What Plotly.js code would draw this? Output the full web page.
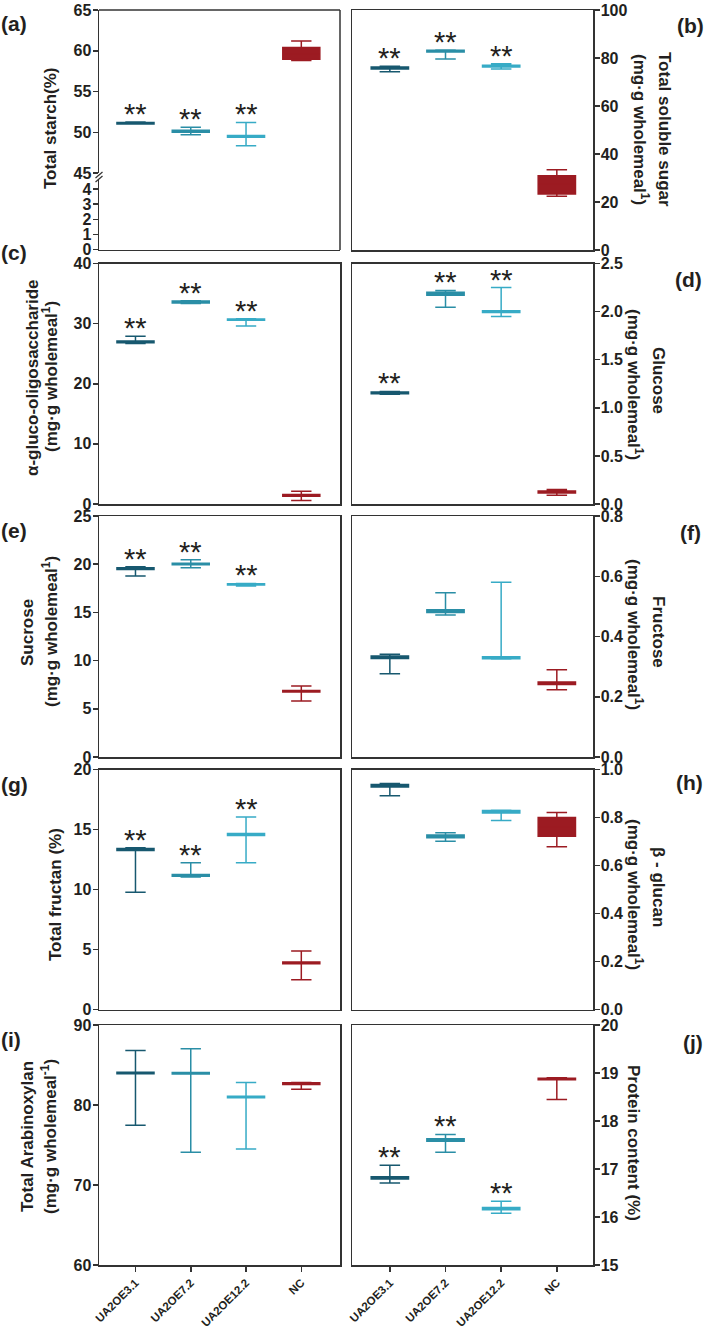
<!DOCTYPE html>
<html>
<head>
<meta charset="utf-8">
<script src="https://cdn.plot.ly/plotly-3.0.1.min.js"></script>
<style>html,body{margin:0;padding:0;background:#fff;}#chart{width:709px;height:1333px;}</style>
</head>
<body>
<div id="chart"></div>
<script>
// ---------- DATA ----------
// each entry: [min, q1, median, q3, max] for UA2OE3.1, UA2OE7.2, UA2OE12.2, NC
const categories = ['UA2OE3.1', 'UA2OE7.2', 'UA2OE12.2', 'NC'];
const totalStarch = [[51.0, 51.0, 51.1, 51.2, 51.25], [49.7, 50.0, 50.1, 50.25, 50.6], [48.35, 49.4, 49.5, 49.6, 51.2], [58.8, 58.95, 59.6, 60.4, 61.2]];
const solubleSugar = [[74.3, 75.4, 75.8, 76.2, 76.6], [79.6, 82.5, 82.8, 83.2, 83.3], [75.4, 76.2, 76.6, 77.0, 77.6], [22.4, 23.3, 27.5, 30.9, 33.4]];
const glucoOligo = [[26.7, 26.8, 26.95, 27.1, 27.9], [33.35, 33.45, 33.6, 33.75, 33.8], [29.6, 30.55, 30.65, 30.75, 30.8], [0.6, 1.3, 1.45, 1.6, 2.1]];
const glucose = [[1.14, 1.145, 1.155, 1.165, 1.17], [2.045, 2.17, 2.185, 2.2, 2.22], [1.95, 1.99, 2.0, 2.01, 2.25], [0.09, 0.115, 0.125, 0.135, 0.15]];
const sucrose = [[18.77, 19.45, 19.52, 19.62, 19.73], [19.63, 19.93, 20.01, 20.1, 20.46], [17.75, 17.83, 17.9, 17.97, 18.0], [5.82, 6.75, 6.82, 6.9, 7.37]];
const fructose = [[0.276, 0.327, 0.331, 0.335, 0.341], [0.471, 0.48, 0.484, 0.489, 0.545], [0.325, 0.326, 0.329, 0.333, 0.58], [0.223, 0.241, 0.245, 0.249, 0.29]];
const fructan = [[9.78, 13.25, 13.33, 13.42, 13.47], [11.05, 11.1, 11.17, 11.25, 12.22], [12.22, 14.5, 14.58, 14.66, 16.05], [2.47, 3.82, 3.89, 3.96, 4.88]];
const betaGlucan = [[0.891, 0.927, 0.933, 0.938, 0.942], [0.701, 0.716, 0.721, 0.727, 0.736], [0.788, 0.819, 0.824, 0.829, 0.83], [0.678, 0.722, 0.76, 0.80, 0.821]];
const arabinoxylan = [[77.46, 83.9, 84.0, 84.1, 86.8], [74.1, 83.86, 83.96, 84.06, 87.04], [74.5, 80.9, 81.0, 81.1, 82.8], [81.96, 82.57, 82.67, 82.77, 82.8]];
const protein = [[16.71, 16.79, 16.81, 16.84, 17.08], [17.35, 17.58, 17.6, 17.63, 17.72], [16.08, 16.15, 16.17, 16.2, 16.33], [18.45, 18.86, 18.875, 18.89, 18.9]];

const sigStars = ['**', '**', '**', ''];
const sigNone = ['', '', '', ''];

// tick labels
const ticksA = [45, 50, 55, 60, 65];
const ticksALow = [0, 1, 2, 3, 4];
const ticksB = [0, 20, 40, 60, 80, 100];
const ticksC = [0, 10, 20, 30, 40];
const ticksD = [0, 0.5, 1.0, 1.5, 2.0, 2.5];
const ticksE = [0, 5, 10, 15, 20, 25];
const ticksF = [0, 0.2, 0.4, 0.6, 0.8];
const ticksG = [0, 5, 10, 15, 20];
const ticksH = [0, 0.2, 0.4, 0.6, 0.8, 1.0];
const ticksI = [60, 70, 80, 90];
const ticksJ = [15, 16, 17, 18, 19, 20];

// ---------- STYLE / LAYOUT ----------
const W = 709, H = 1333;
const px = x => x / W;
const py = y => 1 - y / H;
const colors = ['#17586f', '#2a8ea6', '#37abc6', '#9c1b22'];
const FONT = 'Liberation Sans, Arial, sans-serif';
const TXT = '#231f20';
const LINE = '#333333';

const colX = [[99, 340], [352, 593]];
const colRange = [[-0.66, 3.70], [-0.68, 3.65]];
const rowY = [[10, 250], [263.5, 504], [516, 757], [769.5, 1009.5], [1025, 1265]];

const panels = [
  {lab: '(a)', data: totalStarch, sig: sigStars, range: [45, 65], tv: ticksA, fmt: '', col: 0, row: 0},
  {lab: '(b)', data: solubleSugar, sig: sigStars, range: [0, 100], tv: ticksB, fmt: '', col: 1, row: 0},
  {lab: '(c)', data: glucoOligo, sig: sigStars, range: [0, 40], tv: ticksC, fmt: '', col: 0, row: 1},
  {lab: '(d)', data: glucose, sig: sigStars, range: [0, 2.5], tv: ticksD, fmt: '.1f', col: 1, row: 1},
  {lab: '(e)', data: sucrose, sig: sigStars, range: [0, 25], tv: ticksE, fmt: '', col: 0, row: 2},
  {lab: '(f)', data: fructose, sig: sigNone, range: [0, 0.8], tv: ticksF, fmt: '.1f', col: 1, row: 2},
  {lab: '(g)', data: fructan, sig: sigStars, range: [0, 20], tv: ticksG, fmt: '', col: 0, row: 3},
  {lab: '(h)', data: betaGlucan, sig: sigNone, range: [0, 1.0], tv: ticksH, fmt: '.1f', col: 1, row: 3},
  {lab: '(i)', data: arabinoxylan, sig: sigNone, range: [60, 90], tv: ticksI, fmt: '', col: 0, row: 4},
  {lab: '(j)', data: protein, sig: sigStars, range: [15, 20], tv: ticksJ, fmt: '', col: 1, row: 4}
];

const labelPos = [[14, 24], [690, 26], [14, 253], [688, 279], [14, 530], [690, 532], [14, 784], [689, 782], [11, 1039], [693, 1042]];

// axis titles: [text, x, y, angle]
const titles = [
  ['Total starch(%)', 50, 128, -90],
  ['Total soluble sugar', 665, 129, 90],
  ['(mg·g wholemeal<sup>1</sup>)', 641, 129, 90],
  ['α-gluco-oligosaccharide', 32, 378, -90],
  ['(mg·g wholemeal<sup>1</sup>)', 50, 377, -90],
  ['Glucose', 659, 380, 90],
  ['(mg·g wholemeal<sup>1</sup>)', 635, 384, 90],
  ['Sucrose', 27, 633, -90],
  ['(mg·g wholemeal<sup>1</sup>)', 50, 632, -90],
  ['Fructose', 659, 632, 90],
  ['(mg·g wholemeal<sup>1</sup>)', 635, 634, 90],
  ['Total fructan (%)', 55, 895, -90],
  ['β - glucan', 659, 887, 90],
  ['(mg·g wholemeal<sup>1</sup>)', 635, 894, 90],
  ['Total Arabinoxylan', 27, 1137, -90],
  ['(mg·g wholemeal<sup>-1</sup>)', 49, 1137, -90],
  ['Protein content (%)', 634, 1143, 90]
];

const traces = [];
const layout = {
  width: W, height: H,
  margin: {l: 0, r: 0, t: 0, b: 0},
  paper_bgcolor: '#fff', plot_bgcolor: 'rgba(0,0,0,0)',
  showlegend: false,
  font: {family: FONT, color: TXT},
  annotations: [],
  shapes: []
};

const tickFont = {family: FONT, size: 16, color: TXT, weight: 'bold'};

panels.forEach((p, i) => {
  const n = i + 1;
  const xs = n === 1 ? '' : String(n);
  const xName = 'x' + xs, yName = 'y' + xs;
  const [x0, x1] = colX[p.col];
  const [t, b] = rowY[p.row];
  const bottomRow = p.row === 4;
  const isA = n === 1;

  layout['xaxis' + xs] = {
    domain: [px(x0), px(x1)],
    anchor: isA ? 'y11' : yName,
    type: 'category', categoryarray: categories, categoryorder: 'array',
    range: colRange[p.col],
    showline: true, linecolor: LINE, linewidth: 1.5, mirror: !isA,
    showgrid: false, zeroline: false,
    ticks: bottomRow ? 'outside' : '', ticklen: 5, tickwidth: 1.5, tickcolor: LINE,
    showticklabels: bottomRow, tickangle: -45,
    tickfont: {family: FONT, size: 11.5, color: TXT, weight: 'bold'},
    fixedrange: true
  };
  layout['yaxis' + xs] = {
    domain: isA ? [py(173), py(t)] : [py(b), py(t)],
    anchor: xName,
    side: p.col === 0 ? 'left' : 'right',
    range: p.range, tickvals: p.tv, tickformat: p.fmt,
    showline: true, linecolor: LINE, linewidth: 1.5, mirror: !isA,
    showgrid: false, zeroline: false,
    ticks: 'outside', ticklen: 5, tickwidth: 1.5, tickcolor: LINE,
    ticklabelstandoff: -2,
    tickfont: tickFont, fixedrange: true
  };

  p.data.forEach((d, k) => {
    traces.push({
      type: 'box', xaxis: xName, yaxis: yName,
      x: [categories[k]],
      lowerfence: [d[0]], q1: [d[1]], median: [d[2]], q3: [d[3]], upperfence: [d[4]],
      width: 0.67, whiskerwidth: 0.55,
      line: {color: colors[k], width: 1.5},
      fillcolor: colors[k],
      boxpoints: false, hoverinfo: 'skip'
    });
    if (p.sig[k]) {
      layout.annotations.push({
        xref: xName, yref: yName, x: categories[k], y: d[4],
        text: p.sig[k], showarrow: false, xanchor: 'center', yanchor: 'bottom', yshift: -10,
        font: {family: FONT, size: 29, color: TXT}
      });
    }
  });

  layout.annotations.push({
    xref: 'paper', yref: 'paper', x: px(labelPos[i][0]), y: py(labelPos[i][1]),
    text: p.lab, showarrow: false, xanchor: 'center', yanchor: 'middle',
    font: {family: FONT, size: 21, color: TXT, weight: 'bold'}
  });
});

// lower part of broken axis in (a): an invisible marker keeps its subplot alive
traces.push({type: 'scatter', mode: 'markers', xaxis: 'x', yaxis: 'y11', x: [categories[0]], y: [-10], hoverinfo: 'skip', marker: {opacity: 0}});
layout.yaxis11 = {
  domain: [py(249.5), py(180)], anchor: 'x', side: 'left',
  range: [0, 4.6], tickvals: ticksALow,
  showline: true, linecolor: LINE, linewidth: 1.5, mirror: false,
  showgrid: false, zeroline: false,
  ticks: 'outside', ticklen: 5, tickwidth: 1.5, tickcolor: LINE,
  ticklabelstandoff: -2,
  tickfont: tickFont, fixedrange: true
};
// frame of (a): top and right edges, plus break marks
const frameLine = {color: LINE, width: 1.5};
layout.shapes.push({type: 'line', xref: 'paper', yref: 'paper', x0: px(99), x1: px(340), y0: py(10), y1: py(10), line: frameLine});
layout.shapes.push({type: 'line', xref: 'paper', yref: 'paper', x0: px(340), x1: px(340), y0: py(10), y1: py(250), line: frameLine});
layout.shapes.push({type: 'line', xref: 'paper', yref: 'paper', x0: px(95.5), x1: px(102.5), y0: py(178), y1: py(172), line: {color: LINE, width: 1.2}});
layout.shapes.push({type: 'line', xref: 'paper', yref: 'paper', x0: px(95.5), x1: px(102.5), y0: py(182), y1: py(176), line: {color: LINE, width: 1.2}});

titles.forEach(tt => {
  layout.annotations.push({
    xref: 'paper', yref: 'paper', x: px(tt[1]), y: py(tt[2]),
    text: tt[0], showarrow: false, textangle: tt[3], xanchor: 'center', yanchor: 'middle',
    font: {family: FONT, size: 17, color: TXT, weight: 'bold'}
  });
});

Plotly.newPlot('chart', traces, layout, {staticPlot: true, displayModeBar: false});
</script>
</body>
</html>
